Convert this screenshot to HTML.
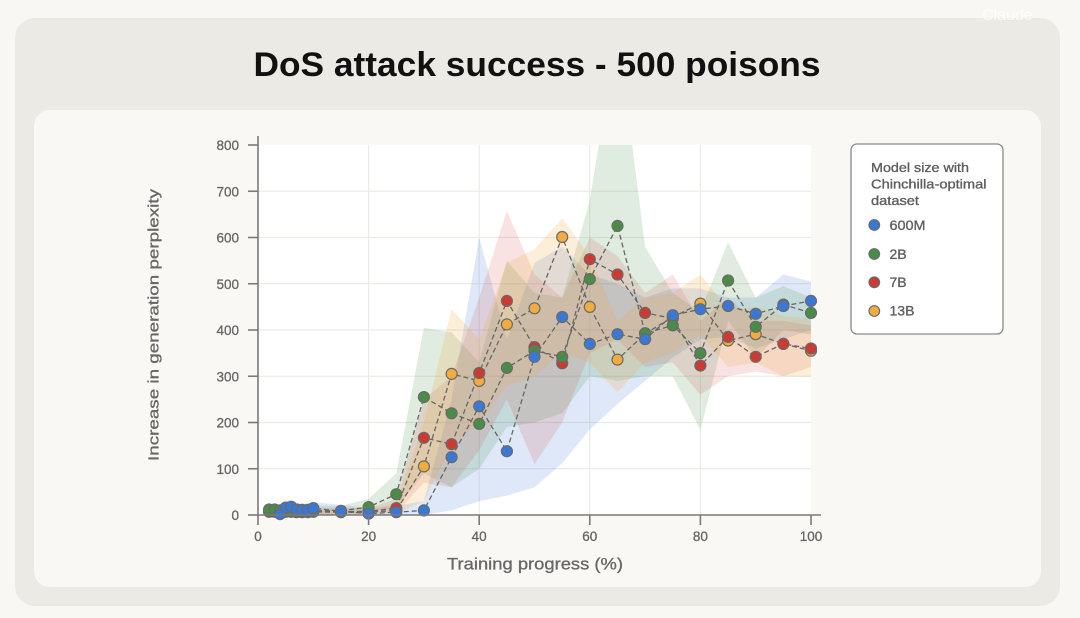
<!DOCTYPE html>
<html><head><meta charset="utf-8"><style>
html,body{margin:0;padding:0;background:#f8f7f3;}
svg{display:block;}
text{font-family:"Liberation Sans",Arial,sans-serif;}
</style></head><body>
<svg width="1080" height="618" viewBox="0 0 1080 618" xmlns="http://www.w3.org/2000/svg">
<defs>
<clipPath id="pc"><rect x="258" y="145" width="553" height="370"/></clipPath>
</defs>
<rect x="0" y="0" width="1080" height="618" fill="#f8f7f3"/>
<rect x="15" y="18" width="1045" height="588" rx="20" fill="#ebeae4"/>
<text x="982" y="20" font-size="16" fill="#ffffff" opacity="0.8">Claude</text>
<rect x="34" y="110" width="1007" height="477" rx="16" fill="#f9f8f5"/>
<text x="537" y="76" font-size="34" font-weight="bold" fill="#111" text-anchor="middle" textLength="567" lengthAdjust="spacingAndGlyphs">DoS attack success - 500 poisons</text>

<!-- plot area -->
<rect x="258" y="145" width="553" height="370" fill="#ffffff"/>
<g stroke="#ecebe6" stroke-width="1.2">
<line x1="258" y1="468.75" x2="811" y2="468.75"/>
<line x1="258" y1="422.5" x2="811" y2="422.5"/>
<line x1="258" y1="376.25" x2="811" y2="376.25"/>
<line x1="258" y1="330" x2="811" y2="330"/>
<line x1="258" y1="283.75" x2="811" y2="283.75"/>
<line x1="258" y1="237.5" x2="811" y2="237.5"/>
<line x1="258" y1="191.25" x2="811" y2="191.25"/>
<line x1="368.6" y1="145" x2="368.6" y2="515"/>
<line x1="479.2" y1="145" x2="479.2" y2="515"/>
<line x1="589.8" y1="145" x2="589.8" y2="515"/>
<line x1="700.4" y1="145" x2="700.4" y2="515"/>
</g>

<!-- bands -->
<g clip-path="url(#pc)">
<g transform="translate(258,515) scale(5.53,-0.4625)">
<polygon fill="#3a78d8" fill-opacity="0.17" points="4,25 5,28 6,28 7,25 8,25 9,25 10,28 15,22 20,15 25,20 30,30 35,250 40,600 45,380 50,545 55,580 60,520 65,500 70,470 75,490 80,490 85,470 90,470 95,520 100,505 100,400 95,380 90,360 85,385 80,380 75,340 70,290 65,240 60,185 55,112 50,60 45,42 40,30 35,10 30,0 25,0 20,0 15,0 10,3 9,2 8,2 7,2 6,5 5,5 4,0"/>
<polygon fill="#4a8c45" fill-opacity="0.17" points="2,22 3,22 4,20 5,20 6,20 7,18 8,18 9,18 10,20 15,20 20,35 25,90 30,405 35,395 40,330 45,550 50,480 55,470 60,680 65,1050 70,580 75,480 80,440 85,590 90,470 95,495 100,470 100,390 95,400 90,340 85,420 80,184 75,300 70,300 65,290 60,300 55,220 50,200 45,190 40,100 35,60 30,90 25,15 20,5 15,2 10,2 9,2 8,2 7,2 6,2 5,2 4,2 3,2 2,2"/>
<polygon fill="#cc3a32" fill-opacity="0.14" points="2,16 3,16 4,16 5,16 6,16 7,16 8,16 9,16 10,16 15,15 20,15 25,35 30,250 35,300 40,470 45,657 50,520 55,470 60,600 65,560 70,480 75,520 80,420 85,470 90,420 95,420 100,410 100,320 95,300 90,310 85,300 80,260 75,330 70,320 65,380 60,350 55,200 50,110 45,250 40,140 35,60 30,70 25,5 20,2 15,1 10,1 9,1 8,1 7,1 6,1 5,1 4,1 3,1 2,1"/>
<polygon fill="#f2ab3f" fill-opacity="0.2" points="2,14 3,14 4,14 5,14 6,14 7,14 8,14 9,14 10,14 15,12 20,12 25,25 30,200 35,445 40,380 45,545 50,575 55,642 60,560 65,420 70,470 75,480 80,520 85,445 90,450 95,430 100,425 100,298 95,300 90,330 85,320 80,390 75,350 70,330 65,265 60,330 55,350 50,300 45,280 40,200 35,150 30,30 25,3 20,1 15,1 10,1 9,1 8,1 7,1 6,1 5,1 4,1 3,1 2,1"/>
</g>
</g>

<!-- lines -->
<g fill="none" stroke="#666" stroke-width="1.3" stroke-dasharray="5 3">
<polyline points="269.1,511.8 274.6,511.8 280.1,512.2 285.7,511.8 291.2,511.8 296.7,512.2 302.2,512.2 307.8,512.2 313.3,511.8 341.0,512.2 368.6,512.2 396.3,510.4 423.9,466.4 451.6,373.9 479.2,380.9 506.9,324.4 534.5,308.3 562.2,237.0 589.8,306.9 617.5,359.6 645.1,333.7 672.8,317.0 700.4,303.6 728.1,340.6 755.7,334.2 783.4,343.9 811.0,350.8"/>
<polyline points="269.1,511.3 274.6,511.3 280.1,511.8 285.7,511.3 291.2,511.3 296.7,511.8 302.2,511.8 307.8,511.8 313.3,511.3 341.0,511.8 368.6,511.3 396.3,508.1 423.9,437.8 451.6,444.2 479.2,373.0 506.9,300.9 534.5,347.1 562.2,363.3 589.8,259.2 617.5,274.5 645.1,312.9 672.8,318.4 700.4,365.6 728.1,336.9 755.7,356.8 783.4,343.9 811.0,348.5"/>
<polyline points="269.1,509.5 274.6,509.5 280.1,510.4 285.7,510.8 291.2,510.8 296.7,511.3 302.2,511.3 307.8,511.3 313.3,510.8 341.0,510.8 368.6,507.1 396.3,494.2 423.9,397.1 451.6,413.3 479.2,423.9 506.9,367.9 534.5,350.8 562.2,356.8 589.8,279.1 617.5,225.9 645.1,333.2 672.8,325.4 700.4,353.1 728.1,280.5 755.7,326.8 783.4,304.6 811.0,312.9"/>
<polyline points="280.1,514.1 285.7,507.6 291.2,506.7 296.7,509.5 302.2,509.9 307.8,509.9 313.3,508.1 341.0,511.3 368.6,513.6 396.3,512.2 423.9,510.4 451.6,457.2 479.2,406.3 506.9,451.2 534.5,356.8 562.2,317.0 589.8,343.9 617.5,334.2 645.1,339.2 672.8,315.2 700.4,309.2 728.1,306.0 755.7,313.8 783.4,306.0 811.0,300.9"/>
</g>

<!-- markers -->
<g stroke="#6a6a6a" stroke-width="1.2">
<g fill="#f2ab3f">
<circle cx="269.1" cy="511.8" r="5.5"/><circle cx="274.6" cy="511.8" r="5.5"/><circle cx="280.1" cy="512.2" r="5.5"/><circle cx="285.7" cy="511.8" r="5.5"/><circle cx="291.2" cy="511.8" r="5.5"/><circle cx="296.7" cy="512.2" r="5.5"/><circle cx="302.2" cy="512.2" r="5.5"/><circle cx="307.8" cy="512.2" r="5.5"/><circle cx="313.3" cy="511.8" r="5.5"/><circle cx="341.0" cy="512.2" r="5.5"/><circle cx="368.6" cy="512.2" r="5.5"/><circle cx="396.3" cy="510.4" r="5.5"/><circle cx="423.9" cy="466.4" r="5.5"/><circle cx="451.6" cy="373.9" r="5.5"/><circle cx="479.2" cy="380.9" r="5.5"/><circle cx="506.9" cy="324.4" r="5.5"/><circle cx="534.5" cy="308.3" r="5.5"/><circle cx="562.2" cy="237.0" r="5.5"/><circle cx="589.8" cy="306.9" r="5.5"/><circle cx="617.5" cy="359.6" r="5.5"/><circle cx="645.1" cy="333.7" r="5.5"/><circle cx="672.8" cy="317.0" r="5.5"/><circle cx="700.4" cy="303.6" r="5.5"/><circle cx="728.1" cy="340.6" r="5.5"/><circle cx="755.7" cy="334.2" r="5.5"/><circle cx="783.4" cy="343.9" r="5.5"/><circle cx="811.0" cy="350.8" r="5.5"/>
</g>
<g fill="#cc3a32">
<circle cx="269.1" cy="511.3" r="5.5"/><circle cx="274.6" cy="511.3" r="5.5"/><circle cx="280.1" cy="511.8" r="5.5"/><circle cx="285.7" cy="511.3" r="5.5"/><circle cx="291.2" cy="511.3" r="5.5"/><circle cx="296.7" cy="511.8" r="5.5"/><circle cx="302.2" cy="511.8" r="5.5"/><circle cx="307.8" cy="511.8" r="5.5"/><circle cx="313.3" cy="511.3" r="5.5"/><circle cx="341.0" cy="511.8" r="5.5"/><circle cx="368.6" cy="511.3" r="5.5"/><circle cx="396.3" cy="508.1" r="5.5"/><circle cx="423.9" cy="437.8" r="5.5"/><circle cx="451.6" cy="444.2" r="5.5"/><circle cx="479.2" cy="373.0" r="5.5"/><circle cx="506.9" cy="300.9" r="5.5"/><circle cx="534.5" cy="347.1" r="5.5"/><circle cx="562.2" cy="363.3" r="5.5"/><circle cx="589.8" cy="259.2" r="5.5"/><circle cx="617.5" cy="274.5" r="5.5"/><circle cx="645.1" cy="312.9" r="5.5"/><circle cx="672.8" cy="318.4" r="5.5"/><circle cx="700.4" cy="365.6" r="5.5"/><circle cx="728.1" cy="336.9" r="5.5"/><circle cx="755.7" cy="356.8" r="5.5"/><circle cx="783.4" cy="343.9" r="5.5"/><circle cx="811.0" cy="348.5" r="5.5"/>
</g>
<g fill="#4a8c45">
<circle cx="269.1" cy="509.5" r="5.5"/><circle cx="274.6" cy="509.5" r="5.5"/><circle cx="280.1" cy="510.4" r="5.5"/><circle cx="285.7" cy="510.8" r="5.5"/><circle cx="291.2" cy="510.8" r="5.5"/><circle cx="296.7" cy="511.3" r="5.5"/><circle cx="302.2" cy="511.3" r="5.5"/><circle cx="307.8" cy="511.3" r="5.5"/><circle cx="313.3" cy="510.8" r="5.5"/><circle cx="341.0" cy="510.8" r="5.5"/><circle cx="368.6" cy="507.1" r="5.5"/><circle cx="396.3" cy="494.2" r="5.5"/><circle cx="423.9" cy="397.1" r="5.5"/><circle cx="451.6" cy="413.3" r="5.5"/><circle cx="479.2" cy="423.9" r="5.5"/><circle cx="506.9" cy="367.9" r="5.5"/><circle cx="534.5" cy="350.8" r="5.5"/><circle cx="562.2" cy="356.8" r="5.5"/><circle cx="589.8" cy="279.1" r="5.5"/><circle cx="617.5" cy="225.9" r="5.5"/><circle cx="645.1" cy="333.2" r="5.5"/><circle cx="672.8" cy="325.4" r="5.5"/><circle cx="700.4" cy="353.1" r="5.5"/><circle cx="728.1" cy="280.5" r="5.5"/><circle cx="755.7" cy="326.8" r="5.5"/><circle cx="783.4" cy="304.6" r="5.5"/><circle cx="811.0" cy="312.9" r="5.5"/>
</g>
<g fill="#3a78d8">
<circle cx="280.1" cy="514.1" r="5.5"/><circle cx="285.7" cy="507.6" r="5.5"/><circle cx="291.2" cy="506.7" r="5.5"/><circle cx="296.7" cy="509.5" r="5.5"/><circle cx="302.2" cy="509.9" r="5.5"/><circle cx="307.8" cy="509.9" r="5.5"/><circle cx="313.3" cy="508.1" r="5.5"/><circle cx="341.0" cy="511.3" r="5.5"/><circle cx="368.6" cy="513.6" r="5.5"/><circle cx="396.3" cy="512.2" r="5.5"/><circle cx="423.9" cy="510.4" r="5.5"/><circle cx="451.6" cy="457.2" r="5.5"/><circle cx="479.2" cy="406.3" r="5.5"/><circle cx="506.9" cy="451.2" r="5.5"/><circle cx="534.5" cy="356.8" r="5.5"/><circle cx="562.2" cy="317.0" r="5.5"/><circle cx="589.8" cy="343.9" r="5.5"/><circle cx="617.5" cy="334.2" r="5.5"/><circle cx="645.1" cy="339.2" r="5.5"/><circle cx="672.8" cy="315.2" r="5.5"/><circle cx="700.4" cy="309.2" r="5.5"/><circle cx="728.1" cy="306.0" r="5.5"/><circle cx="755.7" cy="313.8" r="5.5"/><circle cx="783.4" cy="306.0" r="5.5"/><circle cx="811.0" cy="300.9" r="5.5"/>
</g>
</g>

<!-- axes -->
<g stroke="#7a7a7a" stroke-width="1.6" fill="none">
<line x1="258" y1="136" x2="258" y2="515.8"/>
<line x1="257.2" y1="515" x2="821" y2="515"/>
<line x1="248" y1="515" x2="258" y2="515"/>
<line x1="248" y1="468.75" x2="258" y2="468.75"/>
<line x1="248" y1="422.5" x2="258" y2="422.5"/>
<line x1="248" y1="376.25" x2="258" y2="376.25"/>
<line x1="248" y1="330" x2="258" y2="330"/>
<line x1="248" y1="283.75" x2="258" y2="283.75"/>
<line x1="248" y1="237.5" x2="258" y2="237.5"/>
<line x1="248" y1="191.25" x2="258" y2="191.25"/>
<line x1="248" y1="145" x2="258" y2="145"/>
<line x1="258" y1="515" x2="258" y2="525"/>
<line x1="368.6" y1="515" x2="368.6" y2="525"/>
<line x1="479.2" y1="515" x2="479.2" y2="525"/>
<line x1="589.8" y1="515" x2="589.8" y2="525"/>
<line x1="700.4" y1="515" x2="700.4" y2="525"/>
<line x1="811" y1="515" x2="811" y2="525"/>
</g>
<g font-size="13.5" fill="#666" stroke="#666" stroke-width="0.3" text-anchor="end">
<text x="239" y="520">0</text>
<text x="239" y="473.75">100</text>
<text x="239" y="427.5">200</text>
<text x="239" y="381.25">300</text>
<text x="239" y="335">400</text>
<text x="239" y="288.75">500</text>
<text x="239" y="242.5">600</text>
<text x="239" y="196.25">700</text>
<text x="239" y="150">800</text>
</g>
<g font-size="13.5" fill="#666" stroke="#666" stroke-width="0.3" text-anchor="middle">
<text x="258" y="541">0</text>
<text x="368.6" y="541">20</text>
<text x="479.2" y="541">40</text>
<text x="589.8" y="541">60</text>
<text x="700.4" y="541">80</text>
<text x="811" y="541">100</text>
</g>
<text x="535" y="569.5" font-size="16.5" fill="#666" stroke="#666" stroke-width="0.3" text-anchor="middle" textLength="176" lengthAdjust="spacingAndGlyphs">Training progress (%)</text>
<text transform="translate(158.5,325) rotate(-90)" font-size="15" fill="#666" stroke="#666" stroke-width="0.3" text-anchor="middle" textLength="272" lengthAdjust="spacingAndGlyphs">Increase in generation perplexity</text>

<!-- legend -->
<rect x="851" y="144" width="152" height="190" rx="6" fill="#ffffff" stroke="#8a8a8a" stroke-width="1.3"/>
<g font-size="13" fill="#5f5f5f" stroke="#5f5f5f" stroke-width="0.35">
<text x="871" y="172" textLength="98" lengthAdjust="spacingAndGlyphs">Model size with</text>
<text x="871" y="188.5" textLength="115.5" lengthAdjust="spacingAndGlyphs">Chinchilla-optimal</text>
<text x="871" y="205" textLength="48" lengthAdjust="spacingAndGlyphs">dataset</text>
</g>
<g font-size="14" fill="#5f5f5f" stroke="#5f5f5f" stroke-width="0.35">
<text x="889.5" y="229.8" textLength="36" lengthAdjust="spacingAndGlyphs">600M</text>
<text x="889.5" y="258.8">2B</text>
<text x="889.5" y="287">7B</text>
<text x="889.5" y="315.6">13B</text>
</g>
<g stroke="#6a6a6a" stroke-width="1.2">
<circle cx="874.3" cy="225" r="5.3" fill="#3a78d8"/>
<circle cx="874.3" cy="254" r="5.3" fill="#4a8c45"/>
<circle cx="874.3" cy="282.3" r="5.3" fill="#cc3a32"/>
<circle cx="874.3" cy="311" r="5.3" fill="#f2ab3f"/>
</g>
</svg>
</body></html>
